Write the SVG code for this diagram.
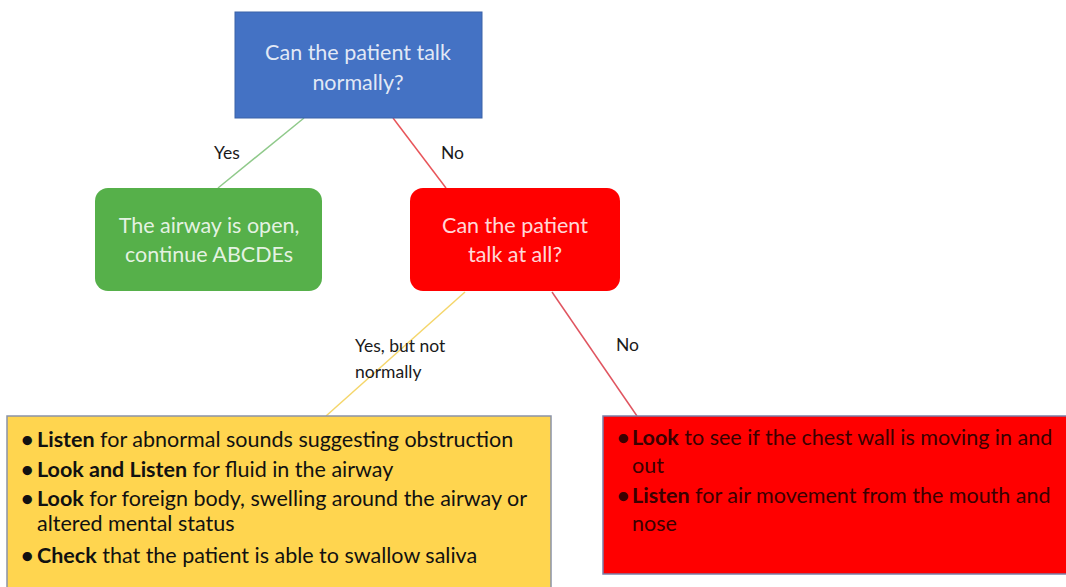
<svg xmlns="http://www.w3.org/2000/svg" width="1066" height="587" viewBox="0 0 1066 587">
<style>
.t{font-family:Lato,"Open Sans","Liberation Sans",sans-serif;}
.nodeTxt{font-size:21.5px;fill:#ffffff;fill-opacity:0.86;text-anchor:middle;}
.lbl{font-size:17.5px;fill:#1a1a1a;}
.body{font-size:21.5px;fill:#111111;}
.bodyR{font-size:21.5px;fill:#3a0000;}
.b{font-weight:bold;}
.conn{fill:none;stroke-width:1.5;}
</style>
<rect width="1066" height="587" fill="#ffffff"/>
<g id="connectors">
<line class="conn" x1="304" y1="118" x2="218" y2="188" stroke="#8fc98a"/>
<line class="conn" x1="393" y1="118" x2="446" y2="188" stroke="#e8555a"/>
<line class="conn" x1="465" y1="292" x2="326" y2="416" stroke="#f5d66a"/>
<line class="conn" x1="552" y1="292" x2="637" y2="416" stroke="#e05560"/>
<text class="t lbl" x="214" y="159">Yes</text>
<text class="t lbl" x="441" y="159">No</text>
<text class="t lbl" x="355" y="352">Yes, but not</text>
<text class="t lbl" x="355" y="378">normally</text>
<text class="t lbl" x="616" y="351">No</text>
</g>
<g id="q1">
<rect x="235" y="12" width="247" height="106" fill="#4472c4" stroke="#3a62a8" stroke-width="1"/>
<text class="t nodeTxt" x="358" y="60">Can the patient talk</text>
<text class="t nodeTxt" x="358" y="90">normally?</text>
</g>
<g id="open">
<rect x="95" y="188" width="227" height="103" rx="13" fill="#56b04a"/>
<text class="t nodeTxt" x="209" y="233">The airway is open,</text>
<text class="t nodeTxt" x="209" y="262">continue ABCDEs</text>
</g>
<g id="q2">
<rect x="410" y="188" width="210" height="103" rx="13" fill="#ff0000"/>
<text class="t nodeTxt" x="515" y="233">Can the patient</text>
<text class="t nodeTxt" x="515" y="262">talk at all?</text>
</g>
<g id="partial">
<rect x="7" y="416" width="544" height="180" fill="#ffd54f" stroke="#8a93a8" stroke-width="1.5"/>
<text class="t body" x="21" y="447"><tspan class="b">•</tspan><tspan class="b" x="37">Listen</tspan> for abnormal sounds suggesting obstruction</text>
<text class="t body" x="21" y="477"><tspan class="b">•</tspan><tspan class="b" x="37">Look and Listen</tspan> for fluid in the airway</text>
<text class="t body" x="21" y="506"><tspan class="b">•</tspan><tspan class="b" x="37">Look</tspan> for foreign body, swelling around the airway or</text>
<text class="t body" x="37" y="531">altered mental status</text>
<text class="t body" x="21" y="563"><tspan class="b">•</tspan><tspan class="b" x="37">Check</tspan> that the patient is able to swallow saliva</text>
</g>
<g id="none">
<rect x="603" y="416" width="470" height="158" fill="#ff0000" stroke="#7a7fa8" stroke-width="1.5"/>
<text class="t bodyR" x="617" y="445"><tspan class="b">•</tspan><tspan class="b" x="632">Look</tspan> to see if the chest wall is moving in and</text>
<text class="t bodyR" x="632" y="473">out</text>
<text class="t bodyR" x="617" y="503"><tspan class="b">•</tspan><tspan class="b" x="632">Listen</tspan> for air movement from the mouth and</text>
<text class="t bodyR" x="632" y="531">nose</text>
</g>
</svg>
